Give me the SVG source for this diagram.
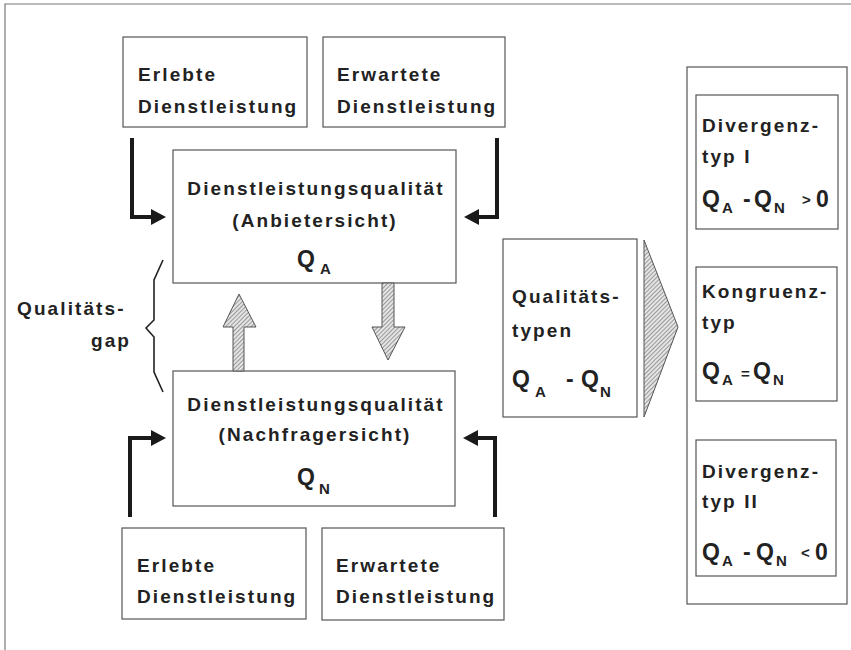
<svg xmlns="http://www.w3.org/2000/svg" width="851" height="650" viewBox="0 0 851 650">
<style>
.box{fill:#fff;stroke:#555;stroke-width:1.2}
.t{font-family:"Liberation Sans",Arial,Helvetica,sans-serif;font-size:19px;font-weight:bold;letter-spacing:2.1px;fill:#222}
.c{text-anchor:middle}
.q{font-family:"Liberation Sans",Arial,Helvetica,sans-serif;font-size:23px;font-weight:bold;fill:#222}
.s{font-size:15px}
.con{fill:none;stroke:#1a1a1a;stroke-width:4}
.head{fill:#1a1a1a}
.hatch{fill:url(#hp);stroke:#555;stroke-width:1}
</style>
<defs>
<pattern id="hp" patternUnits="userSpaceOnUse" width="3" height="3" patternTransform="rotate(45)">
<rect width="3" height="3" fill="#e4e4e4"/>
<line x1="0" y1="0" x2="0" y2="3" stroke="#666" stroke-width="1.2"/>
</pattern>
</defs>
<rect width="851" height="650" fill="#fff"/>
<g id="frame" fill="none" stroke="#777" stroke-width="1.2">
<path d="M5,650 V4 H851"/>
</g>

<g id="erlebte-top">
<rect class="box" x="123" y="37" width="184" height="90"/>
<text class="t" x="138" y="81">Erlebte</text>
<text class="t" x="138" y="113">Dienstleistung</text>
</g>
<g id="erwartete-top">
<rect class="box" x="323" y="37" width="182" height="90"/>
<text class="t" x="337" y="81">Erwartete</text>
<text class="t" x="337" y="113">Dienstleistung</text>
</g>
<g id="qa-box">
<rect class="box" x="173" y="150" width="283" height="133"/>
<text class="t c" x="316" y="195">Dienstleistungsqualität</text>
<text class="t c" x="315" y="227">(Anbietersicht)</text>
<text class="q"><tspan x="297" y="267">Q</tspan><tspan class="s" x="320" y="274">A</tspan></text>
</g>
<g id="qn-box">
<rect class="box" x="173" y="371" width="282" height="135"/>
<text class="t c" x="316" y="411">Dienstleistungsqualität</text>
<text class="t c" x="315" y="441">(Nachfragersicht)</text>
<text class="q"><tspan x="297" y="485">Q</tspan><tspan class="s" x="319" y="494">N</tspan></text>
</g>
<g id="erlebte-bottom">
<rect class="box" x="122" y="528" width="184" height="91"/>
<text class="t" x="137" y="572">Erlebte</text>
<text class="t" x="137" y="603">Dienstleistung</text>
</g>
<g id="erwartete-bottom">
<rect class="box" x="322" y="528" width="182" height="92"/>
<text class="t" x="336" y="572">Erwartete</text>
<text class="t" x="336" y="603">Dienstleistung</text>
</g>
<g id="gap-label">
<text class="t" x="17" y="315">Qualitäts-</text>
<text class="t" x="91" y="347">gap</text>
<path d="M163,260 L154,280 V320 L146,328 L154,337 V372 L163,392" fill="none" stroke="#222" stroke-width="1.6"/>
</g>
<g id="typen-box">
<rect class="box" x="503" y="239" width="134" height="178"/>
<text class="t" x="512" y="303">Qualitäts-</text>
<text class="t" x="512" y="337">typen</text>
<text class="q"><tspan x="512" y="387">Q</tspan><tspan class="s" x="535" y="397">A</tspan><tspan x="566" y="387">-</tspan><tspan x="581" y="387">Q</tspan><tspan class="s" x="600" y="397">N</tspan></text>
</g>
<g id="types-container">
<rect class="box" x="687" y="67" width="160" height="537"/>
</g>
<g id="divergenz-1">
<rect class="box" x="696" y="95" width="142" height="134"/>
<text class="t" x="702" y="132">Divergenz-</text>
<text class="t" x="702" y="163">typ I</text>
<text class="q"><tspan x="702" y="207">Q</tspan><tspan class="s" x="722" y="213">A</tspan><tspan x="743" y="207">-</tspan><tspan x="754" y="207">Q</tspan><tspan class="s" x="774" y="213">N</tspan><tspan class="s" x="802" y="205">&gt;</tspan><tspan x="816" y="207">0</tspan></text>
</g>
<g id="kongruenz">
<rect class="box" x="696" y="267" width="141" height="134"/>
<text class="t" x="702" y="298">Kongruenz-</text>
<text class="t" x="702" y="329">typ</text>
<text class="q"><tspan x="702" y="379">Q</tspan><tspan class="s" x="722" y="385">A</tspan><tspan class="s" x="741" y="379">=</tspan><tspan x="753" y="379">Q</tspan><tspan class="s" x="773" y="385">N</tspan></text>
</g>
<g id="divergenz-2">
<rect class="box" x="696" y="440" width="140" height="136"/>
<text class="t" x="702" y="478">Divergenz-</text>
<text class="t" x="702" y="508">typ II</text>
<text class="q"><tspan x="702" y="560">Q</tspan><tspan class="s" x="722" y="566">A</tspan><tspan x="743" y="560">-</tspan><tspan x="756" y="560">Q</tspan><tspan class="s" x="776" y="566">N</tspan><tspan class="s" x="801" y="558">&lt;</tspan><tspan x="815" y="560">0</tspan></text>
</g>

<g id="connectors">
<path class="con" d="M132,138 V217 H153"/>
<polygon class="head" points="151,209 166,217 151,225"/>
<path class="con" d="M497,138 V217 H477"/>
<polygon class="head" points="479,209 464,217 479,225"/>
<path class="con" d="M130,517 V438 H153"/>
<polygon class="head" points="151,430 166,438 151,446"/>
<path class="con" d="M495,517 V438 H476"/>
<polygon class="head" points="478,430 463,438 478,446"/>
<polygon class="hatch" points="233,371 233,327 223,327 239,294 256,327 244,327 244,371"/>
<polygon class="hatch" points="382,283 382,327 372,327 388,360 405,327 394,327 394,283"/>
<polygon class="hatch" points="644,240 678,327 644,417"/>
</g>
</svg>
